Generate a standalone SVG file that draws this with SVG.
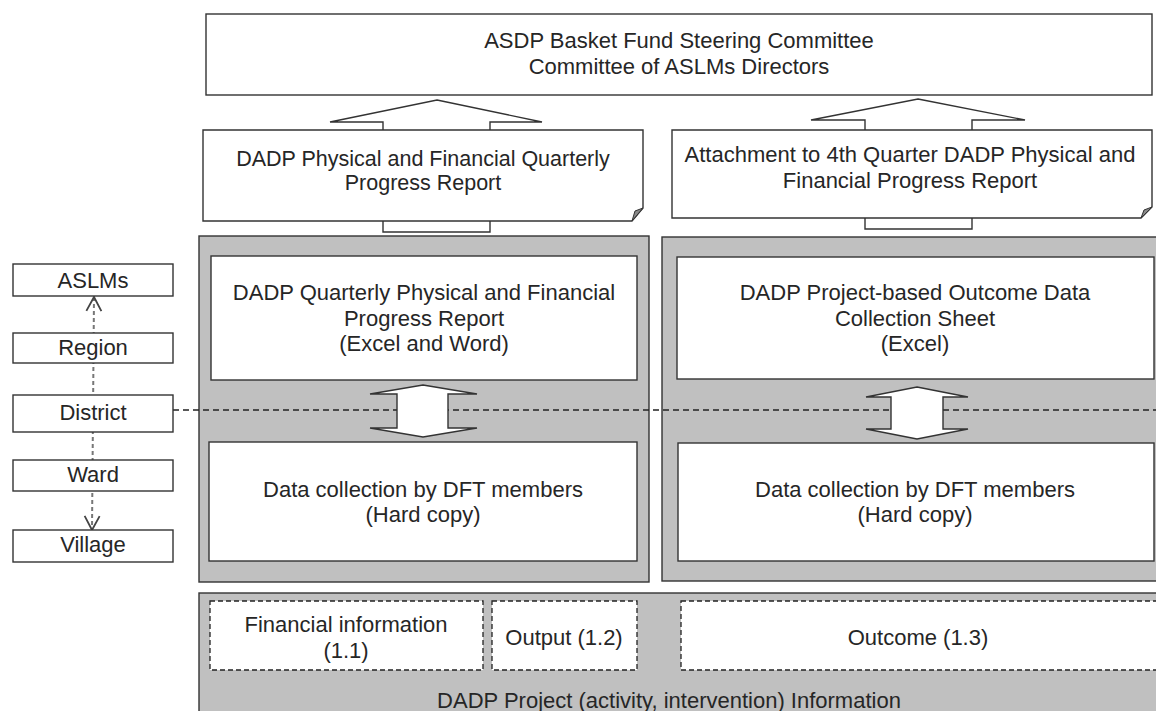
<svg xmlns="http://www.w3.org/2000/svg" width="1156" height="711" viewBox="0 0 1156 711">
<defs>
<style>
.box{fill:#fff;stroke:#333;stroke-width:1.4}
.panel{fill:#c0c0c0;stroke:#333;stroke-width:1.4}
.dbox{fill:#fff;stroke:#222;stroke-width:1.3;stroke-dasharray:5 3}
.fold{fill:#8a8a8a;stroke:#333;stroke-width:1}
.blk{fill:#fff;stroke:#333;stroke-width:1.4;stroke-linejoin:miter}
.hdash{fill:none;stroke:#222;stroke-width:1.3;stroke-dasharray:6 4}
.vdash{fill:none;stroke:#777;stroke-width:2;stroke-dasharray:4 3}
text{font-family:"Liberation Sans",Arial,Helvetica,sans-serif;font-size:22px;fill:#262626;text-anchor:middle}
.tight{font-size:21.5px}
</style>
<marker id="chev" viewBox="0 0 18 18" refX="16" refY="9" markerWidth="18" markerHeight="18" markerUnits="userSpaceOnUse" orient="auto-start-reverse">
<path d="M2,1.5 L16,9 L2,16.5" fill="none" stroke="#444" stroke-width="1.8"/>
</marker>
</defs>
<rect width="1156" height="711" fill="#fff"/>

<!-- container panels -->
<g id="panel-left"><rect class="panel" x="199" y="236" width="450" height="346"/></g>
<g id="panel-right"><rect class="panel" x="662" y="237" width="500" height="344"/></g>
<g id="panel-project">
<rect class="panel" x="199" y="593" width="962" height="125"/>
<text x="669" y="708">DADP Project (activity,  intervention)  Information</text>
</g>

<!-- connectors -->
<g id="connectors">
<line class="vdash" x1="94" y1="297" x2="92" y2="530" marker-start="url(#chev)" marker-end="url(#chev)"/>
<line class="hdash" x1="173" y1="410" x2="1156" y2="410"/>
<polygon class="blk" points="437,100 542,122 490,122 490,232 383,232 383,122 330,122"/>
<polygon class="blk" points="918,99 1025,120 972,120 972,229 865,229 865,120 811,120"/>
<polygon class="blk" points="423,385 477,394 448,394 448,428 477,428 423,437 370,428 397,428 397,394 370,394"/>
<polygon class="blk" points="917,387 968,397 943,397 943,429 968,429 917,439 866,429 891,429 891,397 866,397"/>
</g>

<g id="steering-committee">
<rect class="box" x="206" y="14" width="946" height="81"/>
<text x="679" y="48">ASDP Basket Fund Steering Committee</text>
<text x="679" y="74">Committee of ASLMs Directors</text>
</g>

<g id="doc-quarterly">
<path class="box" d="M203,130 H643 V208 L632,221 H203 Z"/>
<path class="fold" d="M643,208 L632,221 L635,211 Z"/>
<text class="tight" x="423" y="166">DADP Physical and Financial  Quarterly</text>
<text class="tight" x="423" y="190">Progress Report</text>
</g>

<g id="doc-attachment">
<path class="box" d="M672,130 H1152 V207 L1141,218 H672 Z"/>
<path class="fold" d="M1152,207 L1141,218 L1144,210 Z"/>
<text x="910" y="162">Attachment to 4th Quarter DADP Physical and</text>
<text x="910" y="188">Financial Progress Report</text>
</g>

<g id="quarterly-report">
<rect class="box" x="211" y="256" width="426" height="124"/>
<text x="424" y="300">DADP Quarterly Physical and Financial</text>
<text x="424" y="326">Progress Report</text>
<text x="424" y="351">(Excel and Word)</text>
</g>

<g id="outcome-sheet">
<rect class="box" x="677" y="257" width="477" height="122"/>
<text x="915" y="300">DADP Project-based  Outcome Data</text>
<text x="915" y="326">Collection Sheet</text>
<text x="915" y="351">(Excel)</text>
</g>

<g id="data-collection-left">
<rect class="box" x="209" y="442" width="428" height="119"/>
<text x="423" y="497">Data collection by DFT members</text>
<text x="423" y="522">(Hard copy)</text>
</g>

<g id="data-collection-right">
<rect class="box" x="678" y="443" width="476" height="118"/>
<text x="915" y="497">Data collection by DFT members</text>
<text x="915" y="522">(Hard copy)</text>
</g>

<g id="level-aslms"><rect class="box" x="13" y="264" width="160" height="32"/><text x="93" y="288">ASLMs</text></g>
<g id="level-region"><rect class="box" x="13" y="333" width="160" height="30"/><text x="93" y="355">Region</text></g>
<g id="level-district"><rect class="box" x="13" y="395" width="160" height="37"/><text x="93" y="420">District</text></g>
<g id="level-ward"><rect class="box" x="13" y="460" width="160" height="31"/><text x="93" y="482">Ward</text></g>
<g id="level-village"><rect class="box" x="13" y="530" width="160" height="32"/><text x="93" y="552">Village</text></g>

<g id="financial-info">
<rect class="dbox" x="210" y="601" width="273" height="69"/>
<text x="346" y="632">Financial information</text>
<text x="346" y="658">(1.1)</text>
</g>
<g id="output">
<rect class="dbox" x="492" y="601" width="145" height="69"/>
<text x="564" y="645">Output (1.2)</text>
</g>
<g id="outcome">
<rect class="dbox" x="681" y="601" width="480" height="69"/>
<text x="918" y="645">Outcome (1.3)</text>
</g>
</svg>
